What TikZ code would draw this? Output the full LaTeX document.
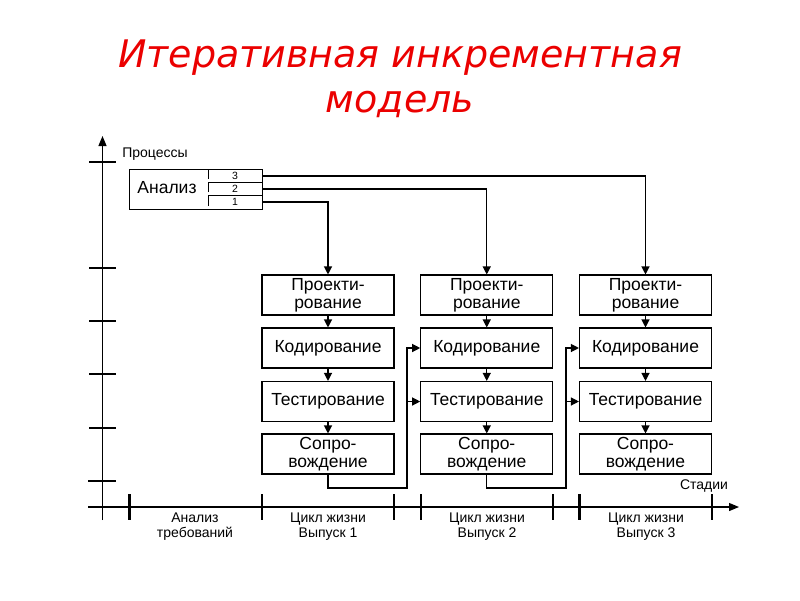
\documentclass[tikz,border=0pt]{standalone}
\usepackage{fontspec}
\setmainfont{Liberation Sans}
\newfontfamily\titlefont{DejaVu Sans}
\usetikzlibrary{arrows.meta}
\definecolor{titlered}{RGB}{235,0,0}
\begin{document}
\begin{tikzpicture}[x=1pt,y=-1pt,
  ln/.style={line width=1.2pt},
  arr/.style={ln,-{Triangle[width=8pt,length=8pt]}},
  box/.style={draw,line width=1.1pt,minimum width=132pt,minimum height=40pt,inner sep=0pt,align=center,font=\fontsize{17.5}{18}\selectfont},
  small/.style={font=\fontsize{14}{15}\selectfont,align=center,inner sep=0pt},
  digit/.style={font=\fontsize{10.5}{10.5}\selectfont,inner sep=0pt},
  tick/.style={line width=1.1pt},
  thicktick/.style={line width=2.6pt}
]
\useasboundingbox (0,0) rectangle (800,600);

% title
\node[font=\titlefont\itshape\fontsize{38}{45}\selectfont,text=titlered,align=center] (title) at (400,79) {Итеративная инкрементная\\модель};

% axes
\coordinate (vb) at (102.5,520);
\coordinate (vt) at (102.5,136);
\coordinate (hl) at (88,507);
\coordinate (hr) at (739,507);
\draw[ln,-{Triangle[width=8pt,length=10pt]}] (vb) -- (vt);
\draw[ln,-{Triangle[width=8pt,length=10pt]}] (hl) -- (hr);
\foreach \y in {162,268,321,374,428} \draw[tick] (89,\y) -- (116,\y);
\draw[thicktick] (88,481) -- (116,481);
\foreach \x in {262,394,421,553,712} \draw[tick] (\x,494) -- (\x,520);
\foreach \x in {129.5,579.5} \draw[thicktick] (\x,494) -- (\x,520);

\node[small] (proc) at (155,154) {Процессы};
\node[small] (stad) at (704,486) {Стадии};
\node[small] (l0) at (195,526.5) {Анализ\\требований};
\node[small] (l1) at (328,526.5) {Цикл жизни\\Выпуск 1};
\node[small] (l2) at (487,526.5) {Цикл жизни\\Выпуск 2};
\node[small] (l3) at (646,526.5) {Цикл жизни\\Выпуск 3};

% analysis box
\node[draw,line width=1.1pt,minimum width=133pt,minimum height=40pt,inner sep=0pt,anchor=north west] (an) at (129,169) {};
\node[font=\fontsize{17.5}{18}\selectfont,inner sep=0pt] (antext) at (167,188) {Анализ};
\draw[line width=1pt] (208,179) -- (208,169);
\draw[line width=1pt] (208,192) -- (208,182) -- (262,182);
\draw[line width=1pt] (208,206) -- (208,195) -- (262,195);
\node[digit] (c3) at (235,175.5) {3};
\node[digit] (c2) at (235,188.5) {2};
\node[digit] (c1) at (235,201.5) {1};

% process boxes
\foreach \n/\x in {1/328,2/486.75,3/645.5}{
  \node[box] (p\n) at (\x,295) {Проекти-\\рование};
  \node[box] (k\n) at (\x,348) {Кодирование};
  \node[box] (t\n) at (\x,401.5) {Тестирование};
  \node[box] (s\n) at (\x,454) {Сопро-\\вождение};
  \draw[arr] (p\n) -- (k\n);
  \draw[arr] (k\n) -- (t\n);
  \draw[arr] (t\n) -- (s\n);
}

% from analysis to design
\coordinate (o3) at (262,176);
\coordinate (o2) at (262,189);
\coordinate (o1) at (262,202);
\draw[arr] (o3) -| (p3.north);
\draw[arr] (o2) -| (p2.north);
\draw[arr] (o1) -| (p1.north);

% feedback
\coordinate (f1) at (407,488);
\coordinate (f2) at (566,488);
\draw[arr] (s1.south) |- (f1) |- (k2.west);
\draw[arr] (f1 |- t2.west) -- (t2.west);
\draw[arr] (s2.south) |- (f2) |- (k3.west);
\draw[arr] (f2 |- t3.west) -- (t3.west);
\end{tikzpicture}
\end{document}
